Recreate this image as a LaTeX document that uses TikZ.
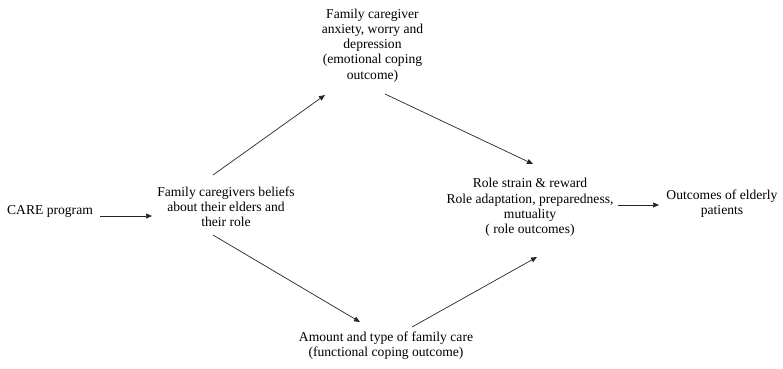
\documentclass[tikz,border=0pt]{standalone}
\usepackage{fontspec}
\setmainfont{Liberation Serif}
\usetikzlibrary{arrows.meta}
\begin{document}
\begin{tikzpicture}[x=1pt,y=-1pt,
  lbl/.style={align=center,inner sep=0pt,font=\fontsize{13.6}{15.2}\selectfont},
  arr/.style={line width=0.7pt,draw=black!85,-{Triangle[length=6pt,width=5pt]}}]
\useasboundingbox (0,0) rectangle (783,368);
\node[lbl] (care) at (50,211) {CARE program};
\node[lbl] (beliefs) at (226,207) {Family caregivers beliefs\\about their elders and\\their role};
\node[lbl] (top) at (372.5,45.5) {Family caregiver\\anxiety, worry and\\depression\\(emotional coping\\outcome)};
\node[lbl] (role) at (530,207.5) {Role strain \& reward\\Role adaptation, preparedness,\\mutuality\\( role outcomes)};
\node[lbl] (out) at (722,204) {Outcomes of elderly\\patients};
\node[lbl] (bottom) at (386,346) {Amount and type of family care\\(functional coping outcome)};
\draw[arr] ([shift={(50,5)}]care.center) -- ([shift={(-74,9)}]beliefs.center);
\draw[arr] ([shift={(-13,-32)}]beliefs.center) -- ([shift={(-47.5,49.5)}]top.center);
\draw[arr] ([shift={(12.5,48.5)}]top.center) -- ([shift={(3,-43.5)}]role.center);
\draw[arr] ([shift={(-13,28)}]beliefs.center) -- ([shift={(-26,-24)}]bottom.center);
\draw[arr] ([shift={(26,-19)}]bottom.center) -- ([shift={(7,49.5)}]role.center);
\draw[arr] ([shift={(88,-2.5)}]role.center) -- ([shift={(-63,1)}]out.center);
\end{tikzpicture}
\end{document}
